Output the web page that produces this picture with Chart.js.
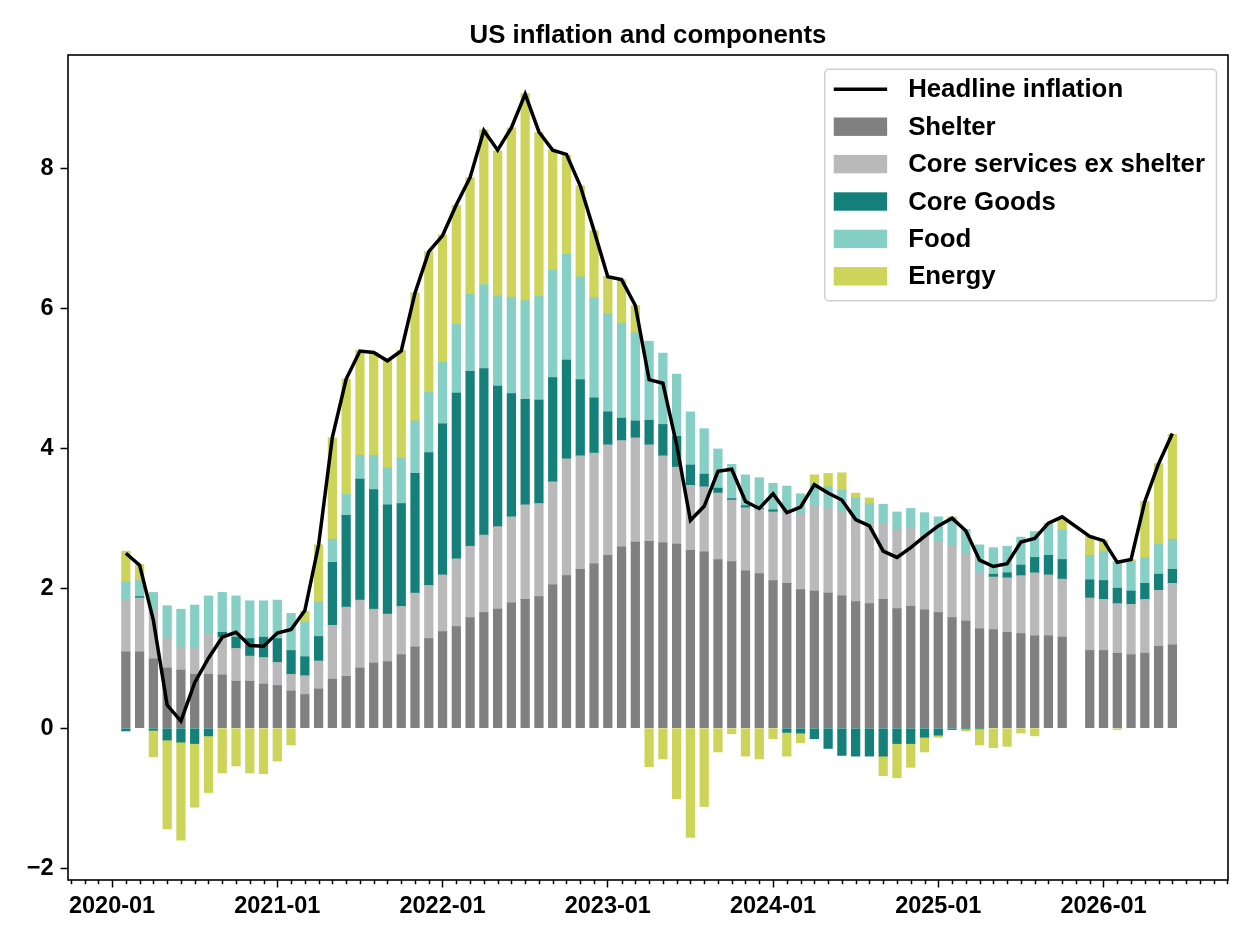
<!DOCTYPE html>
<html>
<head>
<title>US inflation and components</title>
<script src="https://cdn.jsdelivr.net/npm/chart.js"></script>
<style>
  body { margin: 0; background: #fff; }
</style>
</head>
<body>
<canvas id="inflationChart" width="1254" height="940"></canvas>
<script>
// monthly contributions, Jan 2020 .. May 2026 (Oct 2025 not published)
const firstYear = 2020;
const shelter = [
  1.09, 1.09, 0.99, 0.86, 0.83, 0.77, 0.77, 0.76, 0.67, 0.67, 0.63, 0.61,
  0.53, 0.48, 0.56, 0.70, 0.74, 0.86, 0.93, 0.95, 1.05, 1.16, 1.28, 1.38,
  1.45, 1.58, 1.65, 1.70, 1.79, 1.84, 1.88, 2.05, 2.18, 2.27, 2.35, 2.47,
  2.59, 2.66, 2.67, 2.65, 2.63, 2.54, 2.52, 2.41, 2.38, 2.25, 2.21, 2.11,
  2.07, 1.98, 1.96, 1.93, 1.89, 1.81, 1.78, 1.84, 1.71, 1.74, 1.69, 1.65,
  1.58, 1.53, 1.42, 1.41, 1.37, 1.35, 1.32, 1.32, 1.30, null, 1.11, 1.11,
  1.07, 1.05, 1.07, 1.17, 1.19
];
const coreServices = [
  0.75, 0.77, 0.69, 0.43, 0.33, 0.38, 0.57, 0.54, 0.47, 0.36, 0.38, 0.33,
  0.24, 0.27, 0.40, 0.77, 0.99, 0.97, 0.77, 0.68, 0.69, 0.77, 0.76, 0.81,
  0.97, 1.02, 1.11, 1.18, 1.23, 1.35, 1.33, 1.47, 1.67, 1.62, 1.58, 1.58,
  1.52, 1.49, 1.38, 1.24, 1.10, 0.93, 0.93, 0.95, 0.88, 0.90, 0.92, 0.98,
  1.01, 1.08, 1.21, 1.21, 1.21, 1.17, 1.13, 1.08, 1.12, 1.12, 1.07, 1.02,
  1.03, 0.96, 0.80, 0.75, 0.78, 0.83, 0.90, 0.87, 0.83, null, 0.75, 0.73,
  0.71, 0.72, 0.77, 0.80, 0.88
];
const coreGoods = [
  -0.04, 0.02, -0.03, -0.17, -0.20, -0.22, -0.11, 0.07, 0.16, 0.25, 0.29, 0.34,
  0.34, 0.27, 0.35, 0.90, 1.31, 1.73, 1.71, 1.56, 1.47, 1.71, 1.90, 2.16,
  2.37, 2.50, 2.38, 2.01, 1.76, 1.51, 1.48, 1.49, 1.41, 1.09, 0.79, 0.47,
  0.32, 0.24, 0.35, 0.45, 0.44, 0.29, 0.18, 0.07, 0.02, 0.03, 0.01, 0.03,
  -0.06, -0.07, -0.15, -0.29, -0.39, -0.40, -0.40, -0.40, -0.22, -0.22, -0.13, -0.10,
  -0.02, -0.01, -0.01, 0.04, 0.07, 0.15, 0.22, 0.28, 0.28, null, 0.26, 0.27,
  0.22, 0.19, 0.23, 0.23, 0.20
];
const food = [
  0.25, 0.24, 0.26, 0.46, 0.54, 0.61, 0.55, 0.57, 0.59, 0.54, 0.52, 0.55,
  0.53, 0.50, 0.49, 0.33, 0.30, 0.34, 0.49, 0.53, 0.65, 0.75, 0.86, 0.88,
  0.98, 1.10, 1.20, 1.29, 1.38, 1.41, 1.48, 1.54, 1.51, 1.47, 1.43, 1.41,
  1.36, 1.26, 1.13, 1.02, 0.89, 0.76, 0.65, 0.56, 0.49, 0.44, 0.44, 0.38,
  0.38, 0.29, 0.32, 0.31, 0.30, 0.31, 0.30, 0.28, 0.26, 0.28, 0.32, 0.35,
  0.39, 0.35, 0.40, 0.38, 0.38, 0.40, 0.37, 0.44, 0.42, null, 0.35, 0.42,
  0.38, 0.42, 0.37, 0.43, 0.43
];
const energy = [
  0.44, 0.22, -0.38, -1.27, -1.40, -0.91, -0.81, -0.64, -0.54, -0.64, -0.65, -0.47,
  -0.24, 0.15, 0.82, 1.45, 1.65, 1.50, 1.47, 1.54, 1.54, 1.83, 2.01, 1.82,
  1.70, 1.67, 2.21, 2.07, 2.42, 2.96, 2.34, 1.71, 1.42, 1.30, 0.96, 0.53,
  0.62, 0.39, -0.55, -0.44, -1.01, -1.56, -1.12, -0.34, -0.08, -0.40, -0.44, -0.15,
  -0.34, -0.14, 0.13, 0.19, 0.25, 0.07, 0.08, -0.28, -0.49, -0.34, -0.21, -0.03,
  0.02, -0.03, -0.23, -0.28, -0.26, -0.07, -0.11, 0.02, 0.15, null, 0.28, 0.15,
  -0.02, 0.03, 0.80, 1.15, 1.50
];
const headline = [
  2.50, 2.33, 1.54, 0.33, 0.10, 0.65, 1.00, 1.30, 1.37, 1.18, 1.17, 1.36,
  1.41, 1.68, 2.62, 4.16, 4.99, 5.39, 5.37, 5.25, 5.39, 6.22, 6.81, 7.04,
  7.48, 7.87, 8.54, 8.26, 8.58, 9.06, 8.52, 8.26, 8.20, 7.75, 7.11, 6.45,
  6.41, 6.04, 4.98, 4.93, 4.05, 2.97, 3.17, 3.67, 3.70, 3.24, 3.14, 3.35,
  3.08, 3.16, 3.48, 3.36, 3.26, 2.98, 2.89, 2.53, 2.44, 2.58, 2.74, 2.89,
  3.00, 2.82, 2.40, 2.31, 2.35, 2.66, 2.71, 2.93, 3.02, null, 2.74, 2.68,
  2.37, 2.41, 3.24, 3.78, 4.21
];
const xTickLabels = ['2020-01', '2021-01', '2022-01', '2023-01', '2024-01', '2025-01', '2026-01'];
const yTicks = [-2, 0, 2, 4, 6, 8];
const chartTitle = 'US inflation and components';

const FONT = '"Liberation Sans", Arial, Helvetica, sans-serif';
Chart.defaults.font.family = FONT;
Chart.defaults.font.weight = 'bold';
Chart.defaults.color = '#000';

// month i is drawn at the end of that month
function points(values) {
  return values.map((v, i) => ({ x: i + 1, y: v }));
}

function barSet(label, values, color) {
  return {
    type: 'bar',
    label: label,
    data: points(values),
    backgroundColor: color,
    barThickness: 8.6,
    order: 1
  };
}

const frameAndLegend = {
  id: 'frameAndLegend',
  afterDraw(chart) {
    const ctx = chart.ctx;
    const ca = chart.chartArea;
    const xs = chart.scales.x;
    ctx.save();

    // title, centred over the plot area
    ctx.font = 'bold 25.8px ' + FONT;
    ctx.fillStyle = '#000';
    ctx.textAlign = 'center';
    ctx.textBaseline = 'alphabetic';
    ctx.fillText(chartTitle, (ca.left + ca.right) / 2, 42.5);

    // minor monthly ticks
    ctx.strokeStyle = '#000';
    ctx.lineWidth = 1.5;
    ctx.beginPath();
    for (let m = Math.ceil(xs.min); m <= Math.floor(xs.max); m++) {
      if (m % 12 === 0) continue;
      const px = Math.round(xs.getPixelForValue(m)) + 0.5;
      ctx.moveTo(px, ca.bottom);
      ctx.lineTo(px, ca.bottom + 4.2);
    }
    ctx.stroke();

    // axes frame
    ctx.lineWidth = 1.6;
    ctx.strokeRect(ca.left, ca.top, ca.right - ca.left, ca.bottom - ca.top);

    // legend
    const items = chart.data.datasets;
    const textW = Math.max(...items.map(d => ctx.measureText(d.label).width));
    const boxRight = ca.right - 11.5;
    const boxTop = ca.top + 14.3;
    const boxW = 9 + 53.4 + 21 + textW + 11.5;
    const boxLeft = boxRight - boxW;
    const boxH = 231.4;
    ctx.beginPath();
    ctx.roundRect(boxLeft, boxTop, boxW, boxH, 4);
    ctx.fillStyle = 'rgba(255,255,255,0.85)';
    ctx.fill();
    ctx.strokeStyle = '#d0d0d0';
    ctx.lineWidth = 1.5;
    ctx.stroke();

    const hx = boxLeft + 9;
    const tx = hx + 53.4 + 21;
    items.forEach((d, k) => {
      const cy = boxTop + 20 + k * 37.4;
      if (d.type === 'line') {
        ctx.strokeStyle = d.borderColor;
        ctx.lineWidth = 3.5;
        ctx.beginPath();
        ctx.moveTo(hx, cy);
        ctx.lineTo(hx + 53.4, cy);
        ctx.stroke();
      } else {
        ctx.fillStyle = d.backgroundColor;
        ctx.fillRect(hx, cy - 9.2, 53.4, 18.4);
      }
      ctx.fillStyle = '#000';
      ctx.textBaseline = 'middle';
      ctx.textAlign = 'left';
      ctx.fillText(d.label, tx, cy + 1);
    });
    ctx.restore();
  }
};

new Chart(document.getElementById('inflationChart'), {
  type: 'bar',
  data: {
    datasets: [
      {
        type: 'line',
        label: 'Headline inflation',
        data: points(headline),
        borderColor: '#000',
        borderWidth: 3.5,
        pointRadius: 0,
        tension: 0,
        spanGaps: true,
        stack: 'headline',
        order: 0
      },
      barSet('Shelter', shelter, '#808080'),
      barSet('Core services ex shelter', coreServices, '#b9b9b9'),
      barSet('Core Goods', coreGoods, '#15807a'),
      barSet('Food', food, '#85cfc5'),
      barSet('Energy', energy, '#cdd45a')
    ]
  },
  options: {
    responsive: false,
    animation: false,
    devicePixelRatio: 1,
    layout: { padding: { left: 0, right: 26, top: 55, bottom: 0 }, autoPadding: false },
    scales: {
      x: {
        type: 'linear',
        min: -3.2,
        max: 81.04,
        offset: false,
        stacked: true,
        afterFit(s) { s.height = 60; },
        afterBuildTicks(s) { s.ticks = xTickLabels.map((l, k) => ({ value: 12 * k })); },
        ticks: {
          callback: v => xTickLabels[Math.round(v / 12)],
          font: { size: 23.5, weight: 'bold' },
          padding: 5,
          maxRotation: 0,
          autoSkip: false
        },
        grid: { offset: false, drawOnChartArea: false, tickLength: 7.5, tickWidth: 1.5, tickColor: '#000' },
        border: { display: false }
      },
      y: {
        min: -2.17,
        max: 9.62,
        stacked: true,
        afterFit(s) { s.width = 68; },
        afterBuildTicks(s) { s.ticks = yTicks.map(v => ({ value: v })); },
        ticks: {
          callback: v => (v < 0 ? '\u2212' + Math.abs(v) : String(v)),
          font: { size: 23.5, weight: 'bold' },
          padding: 7
        },
        grid: { drawOnChartArea: false, tickLength: 7.5, tickWidth: 1.5, tickColor: '#000' },
        border: { display: false }
      }
    },
    plugins: {
      title: { display: false },
      legend: { display: false },
      tooltip: { enabled: false }
    }
  },
  plugins: [frameAndLegend]
});
</script>
</body>
</html>
